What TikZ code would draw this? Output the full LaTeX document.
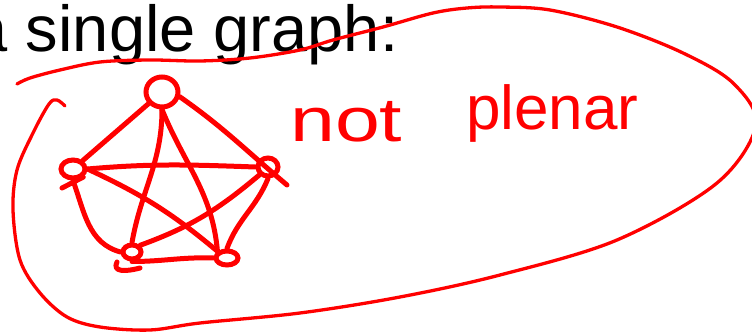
\documentclass[tikz,border=0pt]{standalone}
\usepackage{fontspec}
\setmainfont{Liberation Sans}
\usetikzlibrary{shapes.geometric,calc}
\begin{document}
\begin{tikzpicture}[x=1pt,y=-1pt,
  ink/.style={draw=red,line width=5pt,line cap=round,line join=round},
  loopline/.style={draw=red,line width=3.3pt,line cap=round,line join=round},
  vtx/.style={ellipse,draw=red,line width=5pt,inner sep=0pt},
  hand/.style={text=red,anchor=base west,inner sep=0pt,font=\fontsize{62}{70}\selectfont}]
\useasboundingbox (0,0) rectangle (752,336);
\clip (0,0) rectangle (752,336);
\fill[white] (0,0) rectangle (752,336);
% heading text
\node[anchor=base west,inner sep=0pt,font=\fontsize{65}{72}\selectfont] (title) at (-28.4,52) {a single graph:};
% vertices
\node[vtx,minimum width=32pt,minimum height=30pt] (T) at (162,92) {};
\node[vtx,minimum width=24pt,minimum height=18pt] (L) at (73,169) {};
\node[vtx,minimum width=20pt,minimum height=18pt] (R) at (268,167) {};
\node[vtx,minimum width=18pt,minimum height=14pt] (BL) at (132,252) {};
\node[vtx,minimum width=22pt,minimum height=14pt] (BR) at (227,258) {};
\coordinate (Rx) at (287,185);
\coordinate (Lt) at (62,188);
\coordinate (Hk1) at (117,262);
\coordinate (Hk2) at (140,268);
% edges
\draw[ink] (L) -- (T);
\draw[ink] (T.-15) to[out=-35,in=140] (Rx);
\draw[ink] (L.east) to[out=5,in=178] (R.west);
\draw[ink] (Lt) -- (L.south east);
\draw[ink] (L.south) to[out=-70,in=165] (BL.west);
\draw[ink] (L.east) to[out=-25,in=140] (BR.north west);
\draw[ink] (T.south) to[out=-90,in=80] (BL.north);
\draw[ink] (T.south) to[out=-68,in=95] (BR.north west);
\draw[ink] (R.south west) to[out=-140,in=20] (BL.north east);
\draw[ink] (R.south) to[out=-112,in=70] (BR.north);
\draw[ink] (BL.south) to[out=0,in=178] (BR.west);
\draw[ink] (Hk1) .. controls (112,272) and (125,272) .. (Hk2);
% handwriting
\node[hand,xscale=1.3] (not) at (290,142) {not};
\node[hand] (plenar) at (466,130) {plenar};
% big loop
\draw[loopline] plot[smooth,tension=0.55] coordinates {
 (65,106) (57,100) (49,104) (33,133) (17,170) (13,210) (20,260) (40,293)
 (67,317) (100,327) (150,330) (200,323) (300,313) (400,297) (500,275)
 (617,240) (717,183) (756,125) (733,83) (683,53) (617,27) (550,10)
 (500,7) (467,8) (433,13) (383,27) (333,40) (300,50) (250,58) (200,61)
 (150,60) (100,62) (60,70) (30,78) (17,84)};
\end{tikzpicture}
\end{document}
